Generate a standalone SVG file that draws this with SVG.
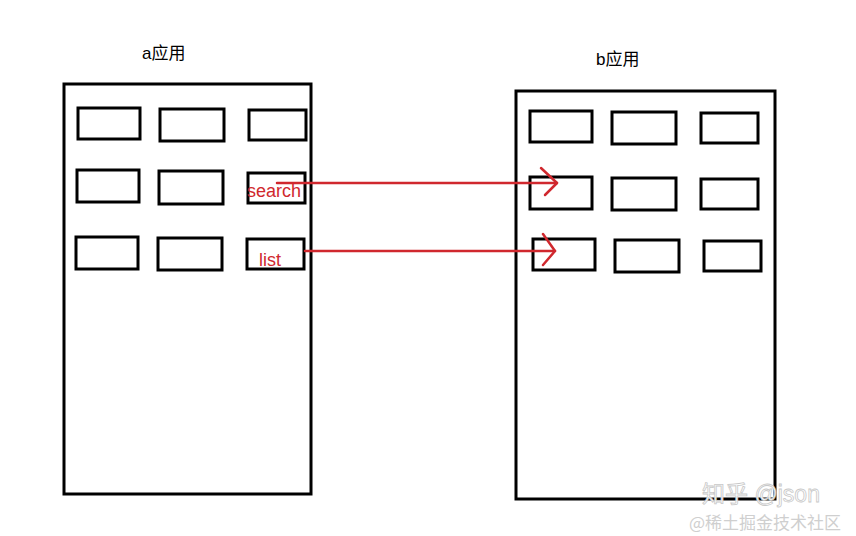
<svg xmlns="http://www.w3.org/2000/svg" width="856" height="536" viewBox="0 0 856 536">
<defs>
<style>
.box{fill:none;stroke:#000;stroke-width:3}
.big{fill:none;stroke:#000;stroke-width:3}
.title{font-family:"Liberation Sans","Noto Sans CJK SC",sans-serif;font-size:17px;fill:#000}
.lbl{font-family:"Liberation Sans","Noto Sans CJK SC",sans-serif;font-size:18px;fill:#d0282e}
.con{fill:none;stroke:#d0282e;stroke-width:2.5;stroke-linecap:round;stroke-linejoin:round}
.wm1{font-family:"Liberation Sans","Noto Sans CJK SC",sans-serif;font-size:23px;fill:#fff;stroke:#c8c8c8;stroke-width:0.8}
.wm2{font-family:"Noto Sans CJK SC",sans-serif;font-size:17px;fill:#cfcfcf}
</style>
</defs>
<rect width="856" height="536" fill="#fff"/>
<g id="appA">
<rect class="big" x="64" y="84" width="247" height="410"/>
<text class="title" x="142" y="59">a应用</text>
</g>
<g id="a-boxes">
<rect id="a11" class="box" x="78" y="108" width="62" height="31"/>
<rect id="a12" class="box" x="160" y="109" width="64" height="32"/>
<rect id="a13" class="box" x="249" y="110" width="57" height="30"/>
<rect id="a21" class="box" x="77" y="170" width="62" height="32"/>
<rect id="a22" class="box" x="159" y="171" width="64" height="33"/>
<rect id="a23" class="box" x="248" y="173" width="57" height="30"/>
<rect id="a31" class="box" x="76" y="237" width="62" height="32"/>
<rect id="a32" class="box" x="158" y="238" width="64" height="32"/>
<rect id="a33" class="box" x="247" y="239" width="57" height="30"/>
</g>
<g id="appB">
<rect class="big" x="516" y="91" width="259" height="408"/>
<text class="title" x="596" y="65">b应用</text>
</g>
<g id="b-boxes">
<rect id="b11" class="box" x="530" y="111" width="62" height="31"/>
<rect id="b12" class="box" x="612" y="112" width="64" height="32"/>
<rect id="b13" class="box" x="701" y="113" width="57" height="30"/>
<rect id="b21" class="box" x="530" y="177" width="62" height="32"/>
<rect id="b22" class="box" x="612" y="178" width="64" height="32"/>
<rect id="b23" class="box" x="701" y="179" width="57" height="30"/>
<rect id="b31" class="box" x="533" y="239" width="62" height="31"/>
<rect id="b32" class="box" x="615" y="240" width="64" height="32"/>
<rect id="b33" class="box" x="704" y="241" width="57" height="30"/>
</g>
<g id="labels">
<text class="lbl" x="247" y="197">search</text>
<text class="lbl" x="259" y="266">list</text>
</g>
<g id="connectors">
<path class="con" d="M277 183 H557"/>
<path class="con" d="M541 168 L557 183 L545 195"/>
<path class="con" d="M305 251 H555"/>
<path class="con" d="M543 234 L555 251 L543 265"/>
</g>
<g id="watermark">
<text class="wm1" x="702" y="502">知乎 @json</text>
<text class="wm2" x="689" y="529">@稀土掘金技术社区</text>
</g>
</svg>
